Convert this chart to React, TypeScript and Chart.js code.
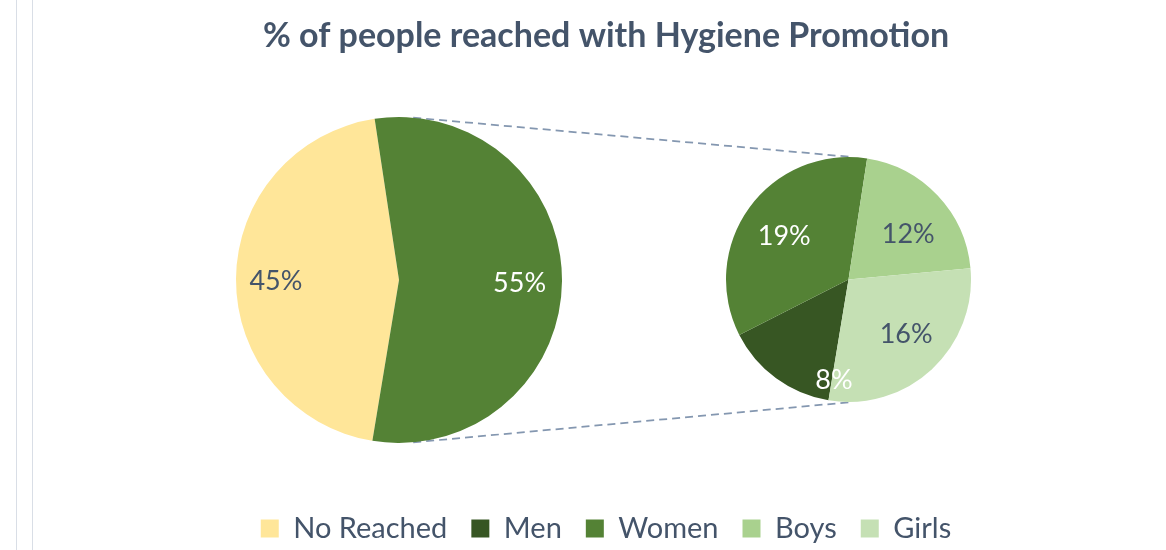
import React, { useEffect, useRef } from "react";
import { Chart, registerables } from "chart.js";

Chart.register(...registerables);

// ---- data ----
const TITLE = "% of people reached with Hygiene Promotion";

const legendLabels = ["No Reached", "Men", "Women", "Boys", "Girls"];
const legendColors = ["#FFE699", "#375623", "#548235", "#A9D18E", "#C5E0B4"];

const mainLabels = ["No Reached", "Reached"];
const mainValues = [45, 55];
const mainColors = ["#FFE699", "#548235"];

const subLabels = ["Men", "Women", "Boys", "Girls"];
const subValues = [8.2, 19.2, 11.6, 16.0];
const subColors = ["#375623", "#548235", "#A9D18E", "#C5E0B4"];

const legendValues = [mainValues[0], ...subValues];

// ---- label styling ----
const mainLabelColors = ["#44546A", "#FFFFFF"];
const mainLabelRadius = [0.755, 0.74];
const mainLabelNudge = [-1, 1.2];

const subLabelColors = ["#FFFFFF", "#FFFFFF", "#44546A", "#44546A"];
const subLabelRadius = [0.83, 0.63, 0.61, 0.65];
const subLabelNudge = [-28, -2.3, 6.4, -3.4];

const TEXT = "#44546A";
const FONT = "Lato";

function labelPlugin(values: number[], colors: string[], radius: number[], nudge: number[]) {
  return {
    id: "pieLabels",
    afterDatasetsDraw(chart: any) {
      const ctx = chart.ctx;
      const meta = chart.getDatasetMeta(0);
      ctx.save();
      ctx.font = `27px ${FONT}`;
      ctx.textAlign = "center";
      ctx.textBaseline = "middle";
      meta.data.forEach((arc: any, i: number) => {
        const { x, y, startAngle, endAngle, outerRadius } = arc.getProps(
          ["x", "y", "startAngle", "endAngle", "outerRadius"],
          true
        );
        const mid = (startAngle + endAngle) / 2 + (nudge[i] * Math.PI) / 180;
        const r = outerRadius * radius[i];
        ctx.fillStyle = colors[i];
        ctx.fillText(Math.round(values[i]) + "%", x + Math.cos(mid) * r, y + Math.sin(mid) * r);
      });
      ctx.restore();
    },
  };
}

export default function App() {
  const fRef = useRef<HTMLCanvasElement>(null);
  const lRef = useRef<HTMLCanvasElement>(null);
  const rRef = useRef<HTMLCanvasElement>(null);

  useEffect(() => {
    const lCanvas = lRef.current!;
    const rCanvas = rRef.current!;
    const left = new Chart(lCanvas, {
      type: "pie",
      data: {
        labels: mainLabels,
        datasets: [{ data: mainValues, backgroundColor: mainColors, borderWidth: 0 }],
      },
      options: {
        responsive: false,
        animation: false,
        rotation: 189.4,
        radius: 163,
        layout: { padding: 0 },
        plugins: { legend: { display: false }, tooltip: { enabled: false } },
      } as any,
      plugins: [labelPlugin(mainValues, mainLabelColors, mainLabelRadius, mainLabelNudge)],
    });

    const right = new Chart(rCanvas, {
      type: "pie",
      data: {
        labels: subLabels,
        datasets: [{ data: subValues, backgroundColor: subColors, borderWidth: 0 }],
      },
      options: {
        responsive: false,
        animation: false,
        rotation: 189.4,
        radius: 122.5,
        layout: { padding: 0 },
        plugins: { legend: { display: false }, tooltip: { enabled: false } },
      } as any,
      plugins: [labelPlugin(subValues, subLabelColors, subLabelRadius, subLabelNudge)],
    });

    const connectors = {
      id: "connectors",
      afterDraw(chart: any) {
        const ctx = chart.ctx;
        const a: any = left.getDatasetMeta(0).data[0];
        const b: any = right.getDatasetMeta(0).data[0];
        const ax = lCanvas.offsetLeft + a.x;
        const ay = lCanvas.offsetTop + a.y;
        const bx = rCanvas.offsetLeft + b.x;
        const by = rCanvas.offsetTop + b.y;
        const ta = (5 * Math.PI) / 180;
        const tb = (2 * Math.PI) / 180;
        ctx.save();
        ctx.strokeStyle = "#8497B0";
        ctx.lineWidth = 1.75;
        ctx.setLineDash([8, 5]);
        [-1, 1].forEach((s) => {
          ctx.beginPath();
          ctx.moveTo(ax + a.outerRadius * Math.sin(ta), ay + s * a.outerRadius * Math.cos(ta));
          ctx.lineTo(bx + b.outerRadius * Math.sin(tb), by + s * b.outerRadius * Math.cos(tb));
          ctx.stroke();
        });
        ctx.restore();
      },
    };

    const frame = new Chart(fRef.current!, {
      type: "pie",
      data: {
        labels: legendLabels,
        datasets: [{ data: legendValues, backgroundColor: legendColors, hidden: true } as any],
      },
      options: {
        responsive: false,
        animation: false,
        layout: { padding: { left: 46, right: 0, top: 0, bottom: -3 } },
        plugins: {
          title: {
            display: true,
            text: TITLE,
            color: TEXT,
            font: { family: FONT, size: 34, weight: "bold" },
            padding: { top: 16, bottom: 10 },
          },
          legend: {
            display: true,
            position: "bottom",
            labels: {
              boxWidth: 18,
              boxHeight: 18,
              color: TEXT,
              font: { family: FONT, size: 29 },
              padding: 24,
              generateLabels: () =>
                legendLabels.map((t, i) => ({
                  text: t,
                  fillStyle: legendColors[i],
                  strokeStyle: legendColors[i],
                  fontColor: TEXT,
                  lineWidth: 0,
                  hidden: false,
                  index: i,
                })),
            },
          },
          tooltip: { enabled: false },
        },
      } as any,
      plugins: [connectors],
    });

    return () => {
      frame.destroy();
      left.destroy();
      right.destroy();
    };
  }, []);

  return (
    <div
      style={{
        position: "absolute",
        left: 0,
        top: 0,
        width: 1166,
        height: 550,
        background: "#ffffff",
        overflow: "hidden",
      }}
    >
      <div style={{ position: "absolute", left: 16, top: 0, width: 1, height: 550, background: "#D9DEE6" }} />
      <div style={{ position: "absolute", left: 32, top: 0, width: 1, height: 550, background: "#D9DEE6" }} />
      <canvas ref={fRef} width={1166} height={550} style={{ position: "absolute", left: 0, top: 0 }} />
      <canvas ref={lRef} width={340} height={340} style={{ position: "absolute", left: 229, top: 110 }} />
      <canvas ref={rRef} width={261} height={261} style={{ position: "absolute", left: 718, top: 149 }} />
    </div>
  );
}
